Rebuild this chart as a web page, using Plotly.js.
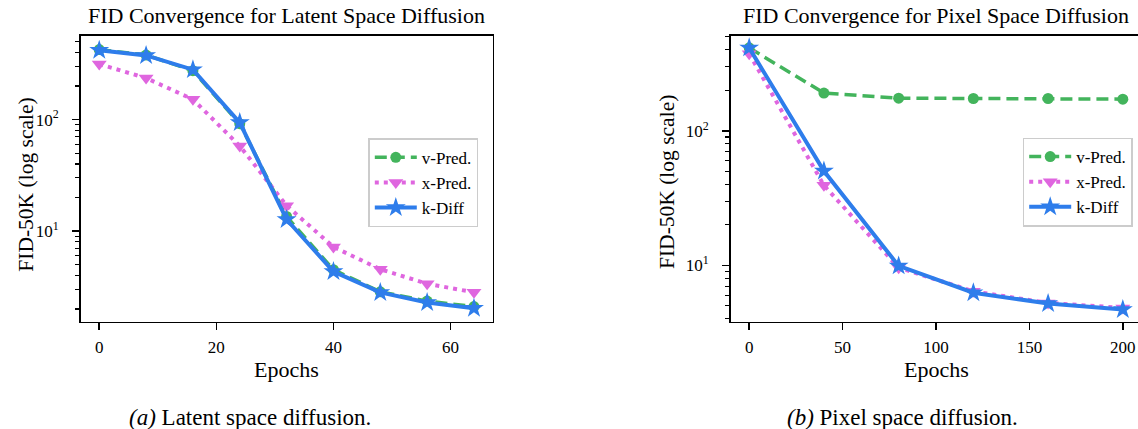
<!DOCTYPE html>
<html>
<head>
<meta charset="utf-8">
<script src="https://cdn.plot.ly/plotly-3.0.1.min.js"></script>
<style>
html, body { margin:0; padding:0; overflow:hidden; background:#fff; }
#chart { width:1150px; height:429px; }
</style>
</head>
<body>
<div id="chart"></div>
<script>
// ---- data ----
const seriesNames = ["v-Pred.", "x-Pred.", "k-Diff"];

const latentEpochs = [0, 8, 16, 24, 32, 40, 48, 56, 64];
const latentVPred  = [425, 380, 275, 92, 13.5, 4.5, 2.85, 2.35, 2.1];
const latentXPred  = [315, 236, 152, 58, 16.9, 7.2, 4.54, 3.36, 2.82];
const latentKDiff  = [420, 377, 281, 94, 12.7, 4.33, 2.81, 2.28, 2.03];

const pixelEpochs = [0, 40, 80, 120, 160, 200];
const pixelVPred  = [414, 191, 175, 174, 174, 172];
const pixelXPred  = [375, 39.3, 9.6, 6.4, 5.25, 4.82];
const pixelKDiff  = [414, 50.2, 9.9, 6.25, 5.2, 4.69];

const latentXTicks = [0, 20, 40, 60];
const pixelXTicks  = [0, 50, 100, 150, 200];
const yTickVals = [10, 100];
const yTickText = ["10<sup>1</sup>", "10<sup>2</sup>"];

const subplotTitles = ["FID Convergence for Latent Space Diffusion", "FID Convergence for Pixel Space Diffusion"];
const xTitle = "Epochs";
const yTitle = "FID-50K (log scale)";
const captions = ["<i>(a)</i> Latent space diffusion.", "<i>(b)</i> Pixel space diffusion."];

// ---- styling ----
const W = 1150, H = 429;
const FONT = "Liberation Serif";
const GREEN = "#43b45c", VIOLET = "#df66df", BLUE = "#2e7deb";
const px = v => v / W;
const py = v => 1 - v / H;

function minorVals(lo, hi) {
  const out = [];
  for (let d = 1; d <= 1000; d *= 10) {
    for (let m = 2; m <= 9; m++) {
      const v = m * d;
      if (v >= lo && v <= hi) out.push(v);
    }
  }
  return out;
}

const styles = [
  {color: GREEN, dash: "12px,6px", symbol: "circle", size: 11, width: 3.5},
  {color: VIOLET, dash: "4px,5px", symbol: "triangle-down", size: 13, width: 4},
  {color: BLUE, dash: "solid", symbol: "star", size: 15, width: 4}
];

function makeTraces(xs, ys, xa, ya, legend) {
  return ys.map((y, i) => ({
    type: "scatter", mode: "lines+markers",
    x: xs, y: y, xaxis: xa, yaxis: ya, legend: legend,
    name: seriesNames[i],
    line: {color: styles[i].color, width: styles[i].width, dash: styles[i].dash},
    marker: {color: styles[i].color, symbol: styles[i].symbol, size: styles[i].size, line: {width: 0}}
  }));
}

const traces = [
  ...makeTraces(latentEpochs, [latentVPred, latentXPred, latentKDiff], "x", "y", "legend"),
  ...makeTraces(pixelEpochs, [pixelVPred, pixelXPred, pixelKDiff], "x2", "y2", "legend2")
];

const axisCommon = {
  showline: true, mirror: true, linecolor: "#000", linewidth: 1.5,
  ticks: "outside", ticklen: 7, tickwidth: 1.5, tickcolor: "#000",
  showgrid: false, zeroline: false, automargin: false,
  tickfont: {family: FONT, size: 17, color: "#000"}
};

const yDomain = [1 - 321.5 / H, 1 - 35.5 / H];
const latentYRange = [0.188, 2.755];
const pixelYRange = [0.582, 2.709];

const legendCommon = {
  xanchor: "right", yanchor: "top", itemwidth: 42,
  bgcolor: "rgba(255,255,255,0.85)", bordercolor: "#cccccc", borderwidth: 1.5,
  font: {family: FONT, size: 17, color: "#000"}
};

const layout = {
  width: W, height: H,
  margin: {l: 0, r: 0, t: 0, b: 0},
  paper_bgcolor: "#fff", plot_bgcolor: "#fff",
  font: {family: FONT, color: "#000", size: 17},
  showlegend: true,
  xaxis: Object.assign({}, axisCommon, {domain: [px(80.5), px(492.7)], range: [-3.2, 67.2], tickvals: latentXTicks, ticklabelstandoff: 3, anchor: "y"}),
  yaxis: Object.assign({}, axisCommon, {domain: yDomain, type: "log", range: latentYRange, tickvals: yTickVals, ticktext: yTickText, ticklabelstandoff: 10, anchor: "x",
    minor: {tickvals: minorVals(1, 600), ticklen: 4, tickwidth: 1.2, tickcolor: "#000", ticks: "outside", showgrid: false}}),
  xaxis2: Object.assign({}, axisCommon, {domain: [px(730.5), px(1141.5)], range: [-10, 210], tickvals: pixelXTicks, ticklabelstandoff: 3, anchor: "y2"}),
  yaxis2: Object.assign({}, axisCommon, {domain: yDomain, type: "log", range: pixelYRange, tickvals: yTickVals, ticktext: yTickText, ticklabelstandoff: 10, anchor: "x2",
    minor: {tickvals: minorVals(1, 600), ticklen: 4, tickwidth: 1.2, tickcolor: "#000", ticks: "outside", showgrid: false}}),
  legend: Object.assign({}, legendCommon, {x: px(478.3), y: py(138.3)}),
  legend2: Object.assign({}, legendCommon, {x: px(1132.7), y: py(137.5)}),
  annotations: [
    {text: subplotTitles[0], x: px(286.8), y: py(16), xref: "paper", yref: "paper", xanchor: "center", yanchor: "middle", showarrow: false, font: {family: FONT, size: 22, color: "#000"}},
    {text: subplotTitles[1], x: px(936), y: py(16), xref: "paper", yref: "paper", xanchor: "center", yanchor: "middle", showarrow: false, font: {family: FONT, size: 22, color: "#000"}},
    {text: xTitle, x: px(286.6), y: py(369.3), xref: "paper", yref: "paper", xanchor: "center", yanchor: "middle", showarrow: false, font: {family: FONT, size: 22, color: "#000"}},
    {text: xTitle, x: px(936), y: py(369.3), xref: "paper", yref: "paper", xanchor: "center", yanchor: "middle", showarrow: false, font: {family: FONT, size: 22, color: "#000"}},
    {text: yTitle, x: px(26), y: py(184.7), xref: "paper", yref: "paper", xanchor: "center", yanchor: "middle", textangle: -90, showarrow: false, font: {family: FONT, size: 21.5, color: "#000"}},
    {text: yTitle, x: px(667), y: py(182), xref: "paper", yref: "paper", xanchor: "center", yanchor: "middle", textangle: -90, showarrow: false, font: {family: FONT, size: 21.5, color: "#000"}},
    {text: captions[0], x: px(249.5), y: py(417), xref: "paper", yref: "paper", xanchor: "center", yanchor: "middle", showarrow: false, font: {family: FONT, size: 23, color: "#000"}},
    {text: captions[1], x: px(902.7), y: py(417), xref: "paper", yref: "paper", xanchor: "center", yanchor: "middle", showarrow: false, font: {family: FONT, size: 23, color: "#000"}}
  ]
};

Plotly.newPlot("chart", traces, layout, {displayModeBar: false, staticPlot: true});
</script>
</body>
</html>
